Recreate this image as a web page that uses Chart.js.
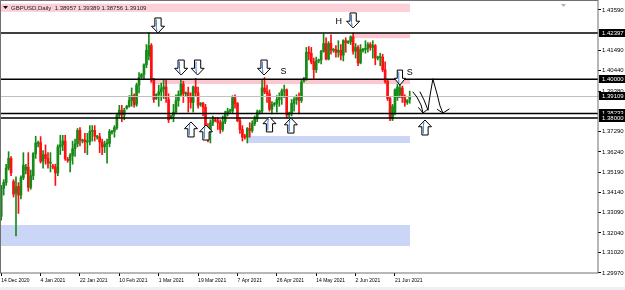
<!DOCTYPE html>
<html>
<head>
<meta charset="utf-8">
<script src="https://cdn.jsdelivr.net/npm/chart.js@4.4.1/dist/chart.umd.min.js"></script>
<style>
  html, body { margin: 0; padding: 0; background: #fff; }
</style>
</head>
<body>
<canvas id="chart" width="625" height="290"></canvas>
<script>
// GBPUSD daily candles, 14 Dec 2020 .. 28 Jun 2021 (Sunday bars included)
const opens = [
  1.3290,1.3435,1.3465,1.3540,1.3590,1.3470,1.3410,1.3445,1.3400,1.3490,
  1.3530,1.3545,1.3440,1.3500,1.3615,1.3665,1.3672,1.3575,1.3610,1.3590,
  1.3565,1.3550,1.3545,1.3515,1.3650,1.3660,1.3680,1.3585,1.3580,1.3605,
  1.3640,1.3665,1.3735,1.3680,1.3686,1.3675,1.3678,1.3730,1.3735,1.3700,
  1.3702,1.3675,1.3650,1.3665,1.3668,1.3725,1.3730,1.3750,1.3815,1.3840,
  1.3815,1.3850,1.3860,1.3890,1.3915,1.3870,1.3970,1.4010,1.4025,1.4075,
  1.4120,1.4175,1.3995,1.3900,1.3920,1.3935,1.3950,1.3960,1.3895,1.3800,
  1.3810,1.3830,1.3890,1.3920,1.3975,1.3925,1.3930,1.3905,1.3880,1.3960,
  1.3930,1.3870,1.3875,1.3855,1.3740,1.3730,1.3775,1.3790,1.3785,1.3775,
  1.3740,1.3780,1.3825,1.3835,1.3835,1.3905,1.3875,1.3785,1.3740,1.3705,
  1.3700,1.3745,1.3735,1.3770,1.3795,1.3830,1.3835,1.3955,1.3935,1.3925,
  1.3845,1.3870,1.3875,1.3895,1.3910,1.3940,1.3945,1.3815,1.3825,1.3875,
  1.3895,1.3905,1.3890,1.3990,1.4005,1.4140,1.4135,1.4090,1.4050,1.4095,
  1.4100,1.4145,1.4185,1.4105,1.4185,1.4150,1.4155,1.4140,1.4150,1.4125,
  1.4200,1.4190,1.4195,1.4220,1.4145,1.4165,1.4085,1.4150,1.4155,1.4160,
  1.4180,1.4165,1.4175,1.4110,1.4112,1.4115,1.4050,1.3990,1.3900,1.3795,
  1.3830,1.3905,1.3920,1.3955,1.3905,1.3880,1.38957
];
const highs = [
  1.3450,1.3480,1.3560,1.3625,1.3600,1.3480,1.3495,1.3465,1.3500,1.3620,
  1.3560,1.3620,1.3530,1.3620,1.3705,1.3680,1.3703,1.3630,1.3660,1.3620,
  1.3620,1.3560,1.3560,1.3660,1.3710,1.3710,1.3710,1.3595,1.3615,1.3680,
  1.3690,1.3745,1.3750,1.3690,1.3720,1.3720,1.3760,1.3760,1.3760,1.3710,
  1.3720,1.3690,1.3680,1.3690,1.3740,1.3735,1.3760,1.3825,1.3865,1.3865,
  1.3850,1.3865,1.3915,1.3955,1.3925,1.3980,1.4035,1.4030,1.4080,1.4180,
  1.4241,1.4185,1.4005,1.3925,1.3970,1.3980,1.4000,1.4000,1.3925,1.3815,
  1.3870,1.3920,1.3940,1.4000,1.3990,1.3935,1.3960,1.3930,1.3965,1.4005,
  1.3960,1.3880,1.3880,1.3870,1.3770,1.3790,1.3810,1.3800,1.3800,1.3790,
  1.3810,1.3835,1.3850,1.3845,1.3915,1.3920,1.3880,1.3800,1.3760,1.3715,
  1.3750,1.3775,1.3785,1.3810,1.3840,1.3840,1.3995,1.4009,1.3970,1.3945,
  1.3885,1.3880,1.3915,1.3930,1.3950,1.3970,1.3950,1.3830,1.3895,1.3905,
  1.3920,1.3930,1.4000,1.4010,1.4165,1.4170,1.4165,1.4110,1.4115,1.4105,
  1.4150,1.4235,1.4215,1.4195,1.4230,1.4160,1.4175,1.4200,1.4180,1.4205,
  1.4215,1.4200,1.4225,1.4240,1.4185,1.4175,1.4180,1.4160,1.4200,1.4190,
  1.4190,1.4200,1.4180,1.4120,1.4135,1.4130,1.4090,1.4000,1.3910,1.3870,
  1.3950,1.3975,1.4000,1.3965,1.3920,1.3895,1.39389
];
const lows = [
  1.3270,1.3400,1.3450,1.3530,1.3500,1.3390,1.3188,1.3305,1.3380,1.3480,
  1.3510,1.3420,1.3430,1.3480,1.3590,1.3650,1.3566,1.3540,1.3560,1.3540,
  1.3520,1.3535,1.3450,1.3500,1.3610,1.3630,1.3580,1.3570,1.3520,1.3560,
  1.3600,1.3650,1.3655,1.3670,1.3620,1.3610,1.3660,1.3680,1.3680,1.3690,
  1.3620,1.3610,1.3620,1.3566,1.3650,1.3715,1.3700,1.3740,1.3800,1.3780,
  1.3790,1.3845,1.3855,1.3860,1.3855,1.3860,1.3930,1.4005,1.4000,1.4060,
  1.4100,1.3985,1.3880,1.3895,1.3860,1.3890,1.3900,1.3880,1.3776,1.3795,
  1.3780,1.3820,1.3860,1.3910,1.3880,1.3915,1.3830,1.3850,1.3830,1.3910,
  1.3850,1.3860,1.3810,1.3725,1.3675,1.3670,1.3760,1.3780,1.3740,1.3720,
  1.3730,1.3770,1.3810,1.3825,1.3825,1.3850,1.3780,1.3720,1.3680,1.3690,
  1.3670,1.3700,1.3725,1.3760,1.3780,1.3820,1.3825,1.3925,1.3880,1.3835,
  1.3820,1.3860,1.3830,1.3860,1.3870,1.3905,1.3800,1.3805,1.3810,1.3835,
  1.3870,1.3820,1.3880,1.3985,1.3995,1.4100,1.4080,1.4005,1.4035,1.4085,
  1.4080,1.4140,1.4100,1.4100,1.4130,1.4140,1.4115,1.4115,1.4100,1.4095,
  1.4140,1.4185,1.4180,1.4130,1.4110,1.4070,1.4080,1.4140,1.4135,1.4140,
  1.4150,1.4110,1.4075,1.4100,1.4070,1.4040,1.3980,1.3890,1.3786,1.3786,
  1.3815,1.3890,1.3905,1.3880,1.3860,1.3870,1.38756
];
const closes = [
  1.3435,1.3465,1.3540,1.3590,1.3515,1.3405,1.3442,1.3400,1.3490,1.3555,
  1.3545,1.3440,1.3500,1.3615,1.3670,1.3672,1.3575,1.3610,1.3590,1.3565,
  1.3568,1.3545,1.3515,1.3650,1.3660,1.3680,1.3590,1.3580,1.3605,1.3640,
  1.3665,1.3735,1.3685,1.3686,1.3675,1.3678,1.3730,1.3735,1.3705,1.3702,
  1.3675,1.3650,1.3665,1.3668,1.3730,1.3730,1.3750,1.3815,1.3840,1.3815,
  1.3840,1.3860,1.3890,1.3915,1.3870,1.3970,1.4010,1.4025,1.4075,1.4150,
  1.4175,1.3995,1.3895,1.3920,1.3935,1.3950,1.3960,1.3900,1.3790,1.3810,
  1.3830,1.3890,1.3920,1.3975,1.3925,1.3930,1.3905,1.3880,1.3960,1.3930,
  1.3865,1.3875,1.3855,1.3740,1.3730,1.3775,1.3790,1.3785,1.3775,1.3740,
  1.3780,1.3825,1.3835,1.3840,1.3905,1.3875,1.3785,1.3740,1.3700,1.3700,
  1.3745,1.3735,1.3770,1.3795,1.3830,1.3835,1.3955,1.3935,1.3925,1.3845,
  1.3870,1.3875,1.3895,1.3910,1.3940,1.3945,1.3815,1.3825,1.3875,1.3895,
  1.3905,1.3890,1.3985,1.4005,1.4140,1.4135,1.4090,1.4050,1.4095,1.4100,
  1.4145,1.4185,1.4105,1.4185,1.4150,1.4155,1.4140,1.4150,1.4125,1.4200,
  1.4190,1.4195,1.4220,1.4145,1.4165,1.4085,1.4155,1.4155,1.4160,1.4180,
  1.4165,1.4175,1.4110,1.4112,1.4115,1.4050,1.3990,1.3900,1.3800,1.3860,
  1.3945,1.3960,1.3955,1.3905,1.3880,1.3890,1.39109
];

const tickDates = ['14 Dec 2020', '4 Jan 2021', '22 Jan 2021', '10 Feb 2021', '1 Mar 2021',
  '19 Mar 2021', '7 Apr 2021', '26 Apr 2021', '14 May 2021', '2 Jun 2021', '21 Jun 2021'];
const priceTicks = [1.43590, 1.41490, 1.40440, 1.39380, 1.37290, 1.36240,
  1.35190, 1.34140, 1.33090, 1.32040, 1.31020, 1.29970];
const levelLines = [1.42397, 1.40000, 1.38233, 1.38000];
const bidPrice = 1.39109;
const priceBoxes = [1.42397, 1.40000, 1.39109, 1.38233, 1.38000];
const holidays = ['2020-12-25', '2021-01-01'];
const emptySlots = 76; // chart shift space on the right

// zones: bar index range and price range
const zones = [
  { from: -0.5, to: 166.1, top: 1.4392, bottom: 1.4349, color: '#fbd0d8' },
  { from: 142.9, to: 166.1, top: 1.4240, bottom: 1.4213, color: '#fbc8d2' },
  { from: 60.5, to: 166.1, top: 1.4001, bottom: 1.3975, color: '#fbc8d2' },
  { from: 100.3, to: 166.1, top: 1.3706, bottom: 1.3670, color: '#cbd5f5' },
  { from: -0.5, to: 166.1, top: 1.3245, bottom: 1.3136, color: '#cbd5f5' }
];
// arrows: bar index and price of the tip
const downArrows = [[63.7, 1.4240], [73.1, 1.4022], [79.8, 1.4022], [106.8, 1.4022], [143.0, 1.4266]];
const upArrows = [[77.1, 1.3779], [83.2, 1.3763], [109.0, 1.3805], [117.7, 1.3799], [172.2, 1.3789]];
const smallArrow = [162.0, 1.3970];
const marks = [['H', 137.2, 1.4297], ['S', 114.7, 1.4038], ['S', 166.0, 1.4033]];
// hand drawn projection
const sketch = [
  [[167.3, 1.3934], [168.9, 1.3908], [170.6, 1.3867], [171.4, 1.3825]],
  [[169.6, 1.3853], [171.4, 1.3825], [173.4, 1.3846]],
  [[170.2, 1.3934], [171.8, 1.3893], [173.4, 1.3841]],
  [[173.4, 1.3841], [174.2, 1.3913], [175.4, 1.4001]],
  [[175.4, 1.4001], [177.1, 1.3924], [178.3, 1.3862], [179.5, 1.3825]],
  [[177.3, 1.3843], [179.5, 1.3825], [182.0, 1.3846]]
];

const MONTHS = ['Jan', 'Feb', 'Mar', 'Apr', 'May', 'Jun', 'Jul', 'Aug', 'Sep', 'Oct', 'Nov', 'Dec'];
const barDates = [];
for (let d = new Date(Date.UTC(2020, 11, 14)); barDates.length < closes.length; d.setUTCDate(d.getUTCDate() + 1)) {
  if (d.getUTCDay() === 6 || holidays.includes(d.toISOString().slice(0, 10))) continue;
  barDates.push(d.getUTCDate() + ' ' + MONTHS[d.getUTCMonth()] + ' ' + d.getUTCFullYear());
}
const labels = barDates.concat(new Array(emptySlots).fill(''));
const barColors = closes.map((c, i) => c >= opens[i] ? '#168a16' : '#ff1010');

const FONT = 'Liberation Sans';

function drawArrow(ctx, x, tipY, dir, w, h) {
  const hw = w / 2, sw = w * 0.24, hh = h * 0.45;
  const baseY = tipY - dir * h, neckY = tipY - dir * hh;
  ctx.beginPath();
  ctx.moveTo(x - sw, baseY);
  ctx.lineTo(x + sw, baseY);
  ctx.lineTo(x + sw, neckY);
  ctx.lineTo(x + hw, neckY);
  ctx.lineTo(x, tipY);
  ctx.lineTo(x - hw, neckY);
  ctx.lineTo(x - sw, neckY);
  ctx.closePath();
  ctx.fillStyle = '#fff';
  ctx.fill();
  ctx.strokeStyle = '#3d7fd9';
  ctx.lineWidth = 1;
  ctx.beginPath();
  ctx.moveTo(x - sw + 1.5, baseY + dir * 1.5);
  ctx.lineTo(x - sw + 1.5, neckY + dir * 1.5);
  ctx.lineTo(x - 1, tipY - dir * 2);
  ctx.stroke();
  ctx.strokeStyle = '#000';
  ctx.beginPath();
  ctx.moveTo(x - sw, baseY);
  ctx.lineTo(x + sw, baseY);
  ctx.lineTo(x + sw, neckY);
  ctx.lineTo(x + hw, neckY);
  ctx.lineTo(x, tipY);
  ctx.lineTo(x - hw, neckY);
  ctx.lineTo(x - sw, neckY);
  ctx.closePath();
  ctx.stroke();
}

const overlay = {
  id: 'overlay',
  beforeDatasetsDraw(chart) {
    const {ctx, chartArea, scales: {x, y}} = chart;
    ctx.save();
    ctx.beginPath();
    ctx.rect(chartArea.left, chartArea.top, chartArea.right - chartArea.left, chartArea.bottom - chartArea.top);
    ctx.clip();
    zones.forEach(z => {
      const x0 = x.getPixelForValue(z.from), x1 = x.getPixelForValue(z.to);
      const y0 = y.getPixelForValue(z.top), y1 = y.getPixelForValue(z.bottom);
      ctx.fillStyle = z.color;
      ctx.fillRect(x0, y0, x1 - x0, y1 - y0);
    });
    ctx.restore();
  },
  afterDatasetsDraw(chart) {
    const {ctx, chartArea, scales: {x, y}} = chart;
    ctx.save();
    // bid line
    let py = Math.round(y.getPixelForValue(bidPrice)) + 0.5;
    ctx.strokeStyle = '#c0c0c0';
    ctx.lineWidth = 1;
    ctx.beginPath();
    ctx.moveTo(chartArea.left, py);
    ctx.lineTo(chartArea.right, py);
    ctx.stroke();
    // horizontal levels
    ctx.strokeStyle = '#000';
    ctx.lineWidth = 1.5;
    levelLines.forEach(v => {
      const ly = y.getPixelForValue(v);
      ctx.beginPath();
      ctx.moveTo(chartArea.left, ly);
      ctx.lineTo(chartArea.right, ly);
      ctx.stroke();
    });
    // arrows
    downArrows.forEach(a => drawArrow(ctx, x.getPixelForValue(a[0]), y.getPixelForValue(a[1]), 1, 13, 15));
    upArrows.forEach(a => drawArrow(ctx, x.getPixelForValue(a[0]), y.getPixelForValue(a[1]), -1, 13, 15));
    drawArrow(ctx, x.getPixelForValue(smallArrow[0]), y.getPixelForValue(smallArrow[1]), 1, 11, 15);
    // letters
    ctx.fillStyle = '#000';
    ctx.font = '9px "' + FONT + '"';
    ctx.textAlign = 'center';
    ctx.textBaseline = 'middle';
    marks.forEach(m => ctx.fillText(m[0], x.getPixelForValue(m[1]), y.getPixelForValue(m[2])));
    // sketch
    ctx.strokeStyle = '#000';
    ctx.lineWidth = 1;
    ctx.lineJoin = 'round';
    ctx.lineCap = 'round';
    sketch.forEach(path => {
      ctx.beginPath();
      path.forEach((p, i) => {
        const px = x.getPixelForValue(p[0]), pyy = y.getPixelForValue(p[1]);
        if (i === 0) ctx.moveTo(px, pyy); else ctx.lineTo(px, pyy);
      });
      ctx.stroke();
    });
    ctx.restore();
  },
  afterDraw(chart) {
    const {ctx, chartArea, scales: {y}} = chart;
    ctx.save();
    // frame
    ctx.strokeStyle = '#707070';
    ctx.lineWidth = 1;
    ctx.strokeRect(0.5, 0.5, chartArea.right - 0.5, chartArea.bottom - 0.5);
    // price boxes
    ctx.font = '6px "' + FONT + '"';
    ctx.textAlign = 'left';
    ctx.textBaseline = 'middle';
    priceBoxes.forEach(v => {
      const by = y.getPixelForValue(v);
      ctx.fillStyle = '#000';
      ctx.fillRect(chartArea.right + 1, Math.round(by) - 4, 26, 8);
      ctx.fillStyle = '#fff';
      ctx.fillText(v.toFixed(5), chartArea.right + 4, by);
    });
    // header
    ctx.fillStyle = '#000';
    ctx.beginPath();
    ctx.moveTo(3, 6); ctx.lineTo(8, 6); ctx.lineTo(5.5, 9);
    ctx.closePath();
    ctx.fill();
    ctx.fillStyle = '#222';
    ctx.font = '6px "' + FONT + '"';
    ctx.fillText('GBPUSD,Daily  1.38957 1.39389 1.38756 1.39109', 11, 8);
    ctx.fillStyle = '#b0b0b0';
    ctx.beginPath();
    ctx.moveTo(561, 4); ctx.lineTo(566, 4); ctx.lineTo(563.5, 7);
    ctx.closePath();
    ctx.fill();
    // bottom strip
    ctx.fillStyle = '#f0f0f0';
    ctx.fillRect(0, 287, 625, 3);
    ctx.restore();
  }
};

new Chart(document.getElementById('chart'), {
  type: 'bar',
  data: {
    labels: labels,
    datasets: [
      {
        label: 'wick',
        data: lows.map((l, i) => [l, highs[i]]),
        backgroundColor: barColors,
        barThickness: 1,
        grouped: false,
        order: 2
      },
      {
        label: 'body',
        data: opens.map((o, i) => [o, closes[i]]),
        backgroundColor: barColors,
        barThickness: 2,
        minBarLength: 1,
        grouped: false,
        order: 1
      }
    ]
  },
  options: {
    responsive: false,
    devicePixelRatio: 1,
    animation: false,
    layout: { padding: { left: 0, right: 0, top: 2, bottom: 0 } },
    plugins: { legend: { display: false }, tooltip: { enabled: false } },
    scales: {
      x: {
        type: 'category',
        offset: true,
        grid: { offset: false, drawOnChartArea: false, drawTicks: true, tickLength: 3, color: '#000' },
        border: { display: false },
        ticks: {
          autoSkip: false, maxRotation: 0, minRotation: 0, align: 'start', padding: 2,
          color: '#000', font: { family: FONT, size: 5 },
          callback: function (v) { return this.getLabelForValue(v); }
        },
        afterBuildTicks: scale => {
          scale.ticks = scale.ticks.filter(t => tickDates.includes(barDates[t.value]));
        },
        afterFit: scale => {
          scale.height = 17;
          scale.paddingLeft = 0;
          scale.paddingRight = 0;
        }
      },
      y: {
        type: 'linear',
        position: 'right',
        min: 1.299631,
        max: 1.440045,
        grid: { drawOnChartArea: false, drawTicks: true, tickLength: 3, color: '#000' },
        border: { display: false },
        ticks: {
          padding: 1, color: '#000', font: { family: FONT, size: 6 },
          callback: v => v.toFixed(5)
        },
        afterBuildTicks: scale => {
          scale.ticks = priceTicks.map(v => ({ value: v }));
        },
        afterFit: scale => {
          scale.width = 27;
          scale.paddingTop = 0;
          scale.paddingBottom = 0;
        }
      }
    }
  },
  plugins: [overlay]
});
</script>
</body>
</html>
